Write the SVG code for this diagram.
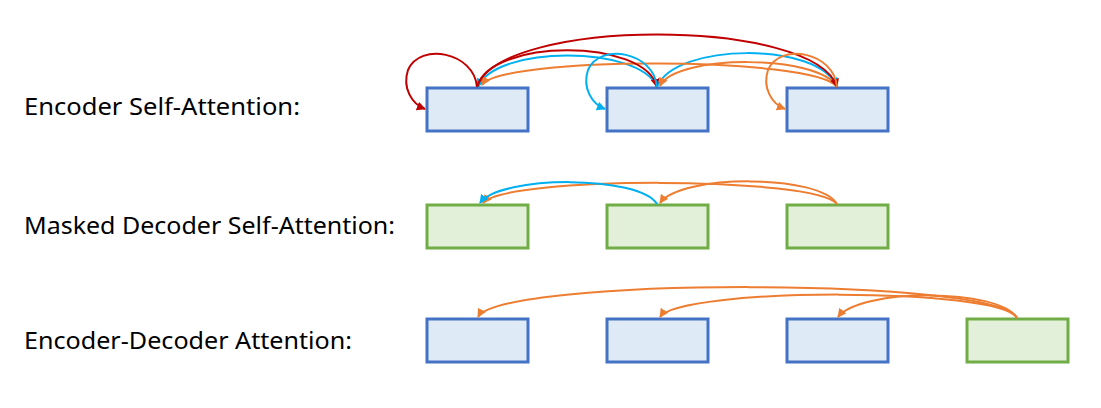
<svg xmlns="http://www.w3.org/2000/svg" width="1101" height="408" viewBox="0 0 1101 408">
<defs>
<style>
.lbl{font-family:"Noto Sans","Liberation Sans",sans-serif;font-size:24px;fill:#000}
.enc{fill:#DEEAF6;stroke:#4472C4;stroke-width:3}
.dec{fill:#E2F0D9;stroke:#70AD47;stroke-width:3}
.c{fill:none;stroke-width:2}
.r{stroke:#C00000}
.b{stroke:#00B0F0}
.o{stroke:#ED7D31}
</style>
<marker id="mr" viewBox="0 0 10 10" refX="9" refY="5" markerWidth="9" markerHeight="9" markerUnits="userSpaceOnUse" orient="auto"><path d="M0,0 L10,5 L0,10 z" fill="#C00000"/></marker>
<marker id="mb" viewBox="0 0 10 10" refX="9" refY="5" markerWidth="9" markerHeight="9" markerUnits="userSpaceOnUse" orient="auto"><path d="M0,0 L10,5 L0,10 z" fill="#00B0F0"/></marker>
<marker id="mo" viewBox="0 0 10 10" refX="9" refY="5" markerWidth="9" markerHeight="9" markerUnits="userSpaceOnUse" orient="auto"><path d="M0,0 L10,5 L0,10 z" fill="#ED7D31"/></marker>
</defs>
<rect width="1101" height="408" fill="#fff"/>
<g id="labels">
<text class="lbl" x="24" y="115" textLength="276" lengthAdjust="spacingAndGlyphs">Encoder Self-Attention:</text>
<text class="lbl" x="24" y="234" textLength="371" lengthAdjust="spacingAndGlyphs">Masked Decoder Self-Attention:</text>
<text class="lbl" x="24" y="349" textLength="328" lengthAdjust="spacingAndGlyphs">Encoder-Decoder Attention:</text>
</g>
<g id="enc-self-1"><rect class="enc" x="427" y="88" width="101" height="43"/></g>
<g id="enc-self-2"><rect class="enc" x="607" y="88" width="101" height="43"/></g>
<g id="enc-self-3"><rect class="enc" x="787" y="88" width="101" height="43"/></g>
<g id="dec-self-1"><rect class="dec" x="427" y="205" width="101" height="43"/></g>
<g id="dec-self-2"><rect class="dec" x="607" y="205" width="101" height="43"/></g>
<g id="dec-self-3"><rect class="dec" x="787" y="205" width="101" height="43"/></g>
<g id="encdec-1"><rect class="enc" x="427" y="319" width="101" height="43"/></g>
<g id="encdec-2"><rect class="enc" x="607" y="319" width="101" height="43"/></g>
<g id="encdec-3"><rect class="enc" x="787" y="319" width="101" height="43"/></g>
<g id="encdec-dec"><rect class="dec" x="967" y="319" width="101" height="43"/></g>
<g id="connectors">
<path class="c b" marker-end="url(#mb)" d="M657,87 C640,45 495,45 478,87"/>
<path class="c b" marker-end="url(#mb)" d="M657,87 C675,42 820,42 836,86"/>
<path class="c o" marker-end="url(#mo)" d="M837,87 C815,56 500,56 482,85"/>
<path class="c o" marker-end="url(#mo)" d="M837,87 C820,54 675,54 660,86"/>
<path class="c r" marker-end="url(#mr)" d="M477,87 C490,38 645,38 657,87"/>
<path class="c r" marker-end="url(#mr)" d="M477,87 C500,17 815,17 837,87"/>
<path class="c r" marker-end="url(#mr)" d="M477,87 C474,52 420,42 408,70 C402,88 412,104 425,109"/>
<path class="c b" marker-end="url(#mb)" d="M657,87 C654,52 600,42 588,70 C582,88 592,104 605,109"/>
<path class="c o" marker-end="url(#mo)" d="M837,87 C834,52 780,42 768,70 C762,88 772,104 785,109"/>
<path class="c o" marker-end="url(#mo)" d="M837,204 C815,176 505,176 483,203"/>
<path class="c b" marker-end="url(#mb)" d="M657,204 C640,175 500,175 480,203"/>
<path class="c o" marker-end="url(#mo)" d="M837,204 C820,174 680,174 660,203"/>
<path class="c o" marker-end="url(#mo)" d="M1017,318 C1000,277 500,277 478,317"/>
<path class="c o" marker-end="url(#mo)" d="M1017,318 C1000,287 680,287 660,317"/>
<path class="c o" marker-end="url(#mo)" d="M1017,318 C1000,288 860,288 838,317"/>
</g>
</svg>
